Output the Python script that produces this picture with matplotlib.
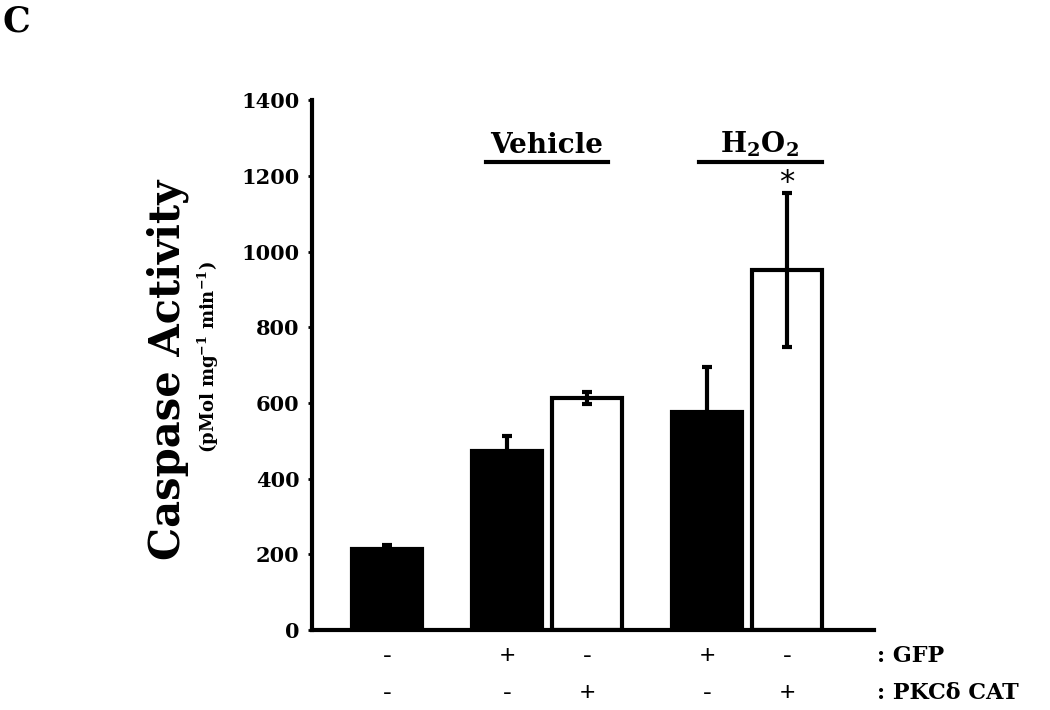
import numpy as np
import matplotlib
matplotlib.use("Agg")
import matplotlib.pyplot as plt

# Data
means = [214, 474, 613, 577, 952]
errors = [11, 39, 16, 119, 203]
fills = ["black", "black", "white", "black", "white"]
gfp_signs = ["-", "+", "-", "+", "-"]
pkc_signs = ["-", "-", "+", "-", "+"]
yticks = [0, 200, 400, 600, 800, 1000, 1200, 1400]

# Layout
positions = np.array([0, 1.2, 2.0, 3.2, 4.0])
barWidth = 0.7

plt.rcParams["font.family"] = ["DejaVu Serif"]
plt.rcParams["mathtext.fontset"] = "dejavuserif"
plt.rcParams["mathtext.default"] = "bf"

fig = plt.figure(figsize=(10.5, 7.1), dpi=100)
ax = fig.add_axes([0.297, 0.1127, 0.535, 0.746])

ax.bar(positions, means, width=barWidth, color=fills, edgecolor="black",
       linewidth=3, zorder=2)
ax.errorbar(positions, means, yerr=errors, fmt="none", ecolor="black",
            elinewidth=3, capsize=3.5, capthick=3, zorder=3)

ax.set_xlim(-0.75, 4.87)
ax.set_ylim(0, 1400)
ax.set_yticks(yticks)
ax.set_yticklabels([str(t) for t in yticks], fontsize=15, fontweight="bold")
ax.set_xticks([])
ax.tick_params(axis="y", length=3, width=2, pad=6)

for side in ["top", "right"]:
    ax.spines[side].set_visible(False)
ax.spines["left"].set_linewidth(3)
ax.spines["bottom"].set_linewidth(3)

# Group labels above bars
ax.plot([0.99, 2.21], [1238, 1238], color="black", linewidth=3, clip_on=False)
ax.plot([3.12, 4.35], [1238, 1238], color="black", linewidth=3, clip_on=False)
ax.text(1.6, 1262, "Vehicle", ha="center", va="baseline", fontsize=20,
        fontweight="bold")
ax.text(3.73, 1262, "H$_2$O$_2$", ha="center", va="baseline", fontsize=20,
        fontweight="bold")
ax.text(positions[4], 1182, "*", ha="center", va="center", fontsize=22,
        family="DejaVu Sans")

# +/- rows under the axis
for x, g, p in zip(positions, gfp_signs, pkc_signs):
    fig.text((387 + x * 100) / 1050, 1 - 656 / 710, g, ha="center",
             va="center", fontsize=19, family="Liberation Sans")
    fig.text((387 + x * 100) / 1050, 1 - 693 / 710, p, ha="center",
             va="center", fontsize=19, family="Liberation Sans")
fig.text(877 / 1050, 1 - 656 / 710, ": GFP", ha="left", va="center",
         fontsize=16, fontweight="bold")
fig.text(877 / 1050, 1 - 693 / 710, ": PKC\u03b4 CAT", ha="left",
         va="center", fontsize=16, fontweight="bold")

# Axis titles
fig.text(168 / 1050, 1 - 370 / 710, "Caspase Activity", rotation=90,
         ha="center", va="center", fontsize=30, fontweight="bold")
fig.text(208 / 1050, 1 - 357 / 710, "(pMol mg$^{-1}$ min$^{-1}$)",
         rotation=90, ha="center", va="center", fontsize=13,
         fontweight="bold")

# Panel letter
fig.text(3 / 1050, 1 - 5 / 710, "C", ha="left", va="top", fontsize=25,
         fontweight="bold")

plt.savefig("out.png", dpi=100)
